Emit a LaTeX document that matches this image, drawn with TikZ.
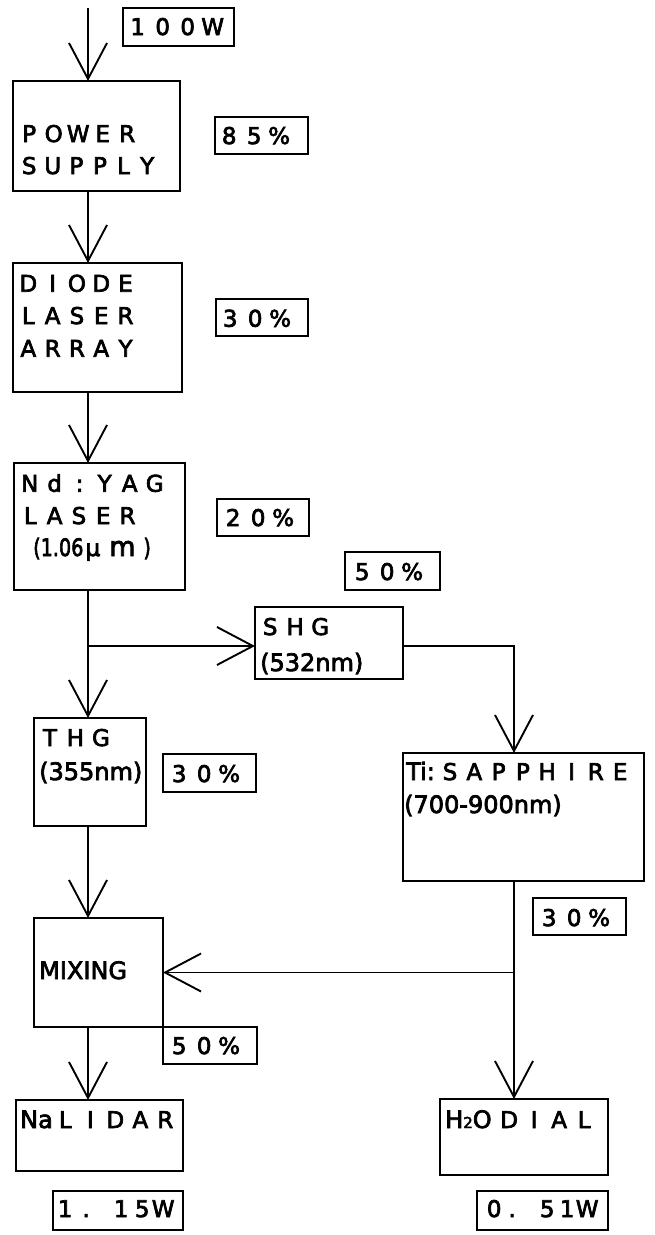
\documentclass[tikz,border=0pt]{standalone}
\usepackage{fontspec}
\setmainfont{DejaVu Sans}[FakeBold=3]
\usetikzlibrary{arrows.meta}
\makeatletter
\newcommand\fw[2][25pt]{\@tfor\fw@c:=#2\do{\makebox[#1][c]{\fw@c}}}
\makeatother
\newcommand\nsz{\fontsize{24}{28}\selectfont}
\tikzset{
  boxst/.style={draw, line width=2.2pt, inner sep=0pt, outer sep=0pt, anchor=north west},
  wt/.style={inner sep=0pt, anchor=base west, font=\fontsize{23}{27}\selectfont},
  nt/.style={inner sep=0pt, anchor=base west, font=\fontsize{24}{28}\selectfont},
  arr/.style={line width=1.9pt, -{Straight Barb[length=36pt,width=38pt,line width=1.9pt]}}
}
\begin{document}
\begin{tikzpicture}[x=1pt,y=-1pt]
\useasboundingbox (0,0) rectangle (655,1235);
% boxes
\node[boxst, minimum width=111pt, minimum height=38pt] (inW) at (123,8) {};
\node[boxst, minimum width=167pt, minimum height=110pt] (ps) at (13,81) {};
\node[boxst, minimum width=93pt, minimum height=37pt] (l85) at (215,117) {};
\node[boxst, minimum width=169pt, minimum height=129pt] (dla) at (13,263) {};
\node[boxst, minimum width=92pt, minimum height=37pt] (l30a) at (216,299) {};
\node[boxst, minimum width=171pt, minimum height=127pt] (yag) at (14,463) {};
\node[boxst, minimum width=92pt, minimum height=37pt] (l20) at (217,499) {};
\node[boxst, minimum width=95pt, minimum height=38pt] (l50a) at (345,552) {};
\node[boxst, minimum width=148pt, minimum height=72pt] (shg) at (255,607) {};
\node[boxst, minimum width=112pt, minimum height=108pt] (thg) at (34,718) {};
\node[boxst, minimum width=93pt, minimum height=38pt] (l30b) at (163,754) {};
\node[boxst, minimum width=241pt, minimum height=128pt] (ti) at (403,753) {};
\node[boxst, minimum width=93pt, minimum height=37pt] (l30c) at (533,898) {};
\node[boxst, minimum width=129pt, minimum height=109pt] (mix) at (34,918) {};
\node[boxst, minimum width=94pt, minimum height=37pt] (l50b) at (163,1027) {};
\node[boxst, minimum width=167pt, minimum height=71pt] (na) at (16,1100) {};
\node[boxst, minimum width=168pt, minimum height=76pt] (h2o) at (440,1099) {};
\node[boxst, minimum width=130pt, minimum height=39pt] (o115) at (53,1191) {};
\node[boxst, minimum width=131pt, minimum height=39pt] (o051) at (477,1191) {};
% texts
\node[wt] (t100) at (125,35) {\fw{100W}};
\node[wt] (tpow) at (16.75,142) {\fw[24.5pt]{POWER}};
\node[wt] (tsup) at (17.2,174) {\fw[23.6pt]{SUPPLY}};
\node[wt] (t85) at (216.5,144) {\fw{85\%}};
\node[wt] (tdio) at (16,291.7) {\fw[24.3pt]{DIODE}};
\node[wt] (tlas) at (16,324) {\fw[24.3pt]{LASER}};
\node[wt] (tarr) at (16,356.7) {\fw[24.3pt]{ARRAY}};
\node[wt] (t30a) at (217.5,326.7) {\fw{30\%}};
\node[wt] (tnd) at (17,491.7) {\fw{Nd:YAG}};
\node[wt] (tlas2) at (18,524) {\fw[24.3pt]{LASER}};
\node[wt] (twl) at (33,556) {\scalebox{0.8}[1]{\fontsize{24}{27}\selectfont(1.06}\hspace{1pt}{\fontsize{23}{27}\selectfont\makebox[17pt]{μ}}{\fontsize{27}{30}\selectfont\makebox[42pt]{m}}\scalebox{0.8}[1]{\fontsize{24}{27}\selectfont)}};
\node[wt] (t20) at (220.5,526) {\fw{20\%}};
\node[wt] (t50a) at (349.5,580) {\fw{50\%}};
\node[wt] (tshg) at (257.5,635) {\fw{SHG}};
\node[nt] (t532) at (260,671) {(532nm)};
\node[wt] (tthg) at (37,746) {\fw[25.5pt]{THG}};
\node[nt] (t355) at (39,780) {(355nm)};
\node[wt] (t30b) at (166.5,782) {\fw{30\%}};
\node[wt] (tti) at (406,780) {{\nsz Ti:}\hspace{3pt}\fw[24.3pt]{SAPPHIRE}};
\node[nt] (t700) at (404,813) {(700-900nm)};
\node[wt] (t30c) at (536.5,926) {\fw{30\%}};
\node[nt] (tmix) at (39,979) {MIXING};
\node[wt] (t50b) at (166.5,1054) {\fw{50\%}};
\node[wt] (tna) at (20,1128) {{\nsz Na}\fw{LIDAR}};
\node[wt] (th2o) at (445,1128) {{\nsz H{\fontsize{15}{18}\selectfont 2}O}\hspace{5pt}\fw{DIAL}};
\node[wt] (t115) at (54.5,1217) {\fw[21pt]{1.}\hspace{14pt}\fw[21pt]{15W}};
\node[wt] (t051) at (485,1217) {\fw[18pt]{0.}\hspace{16pt}\fw[20pt]{51W}};
% connectors
\coordinate (cL) at (88,0);
\coordinate (cR) at (514,0);
\coordinate (top) at (88,8);
\coordinate (bs) at (88,646);
\draw[arr] (top) -- (ps.north -| cL);
\draw[arr] (ps.south -| cL) -- (dla.north -| cL);
\draw[arr] (dla.south -| cL) -- (yag.north -| cL);
\draw[arr] (yag.south -| cL) -- (thg.north -| cL);
\draw[arr] (bs) -- (bs -| shg.west);
\draw[arr] (shg.east |- bs) -| (ti.north -| cR);
\draw[arr] (thg.south -| cL) -- (mix.north -| cL);
\draw[arr] (ti.south -| cR) -- (h2o.north -| cR);
\draw[arr] (cR |- mix.east) -- (mix.east);
\draw[arr] (mix.south -| cL) -- (na.north -| cL);
\end{tikzpicture}
\end{document}
